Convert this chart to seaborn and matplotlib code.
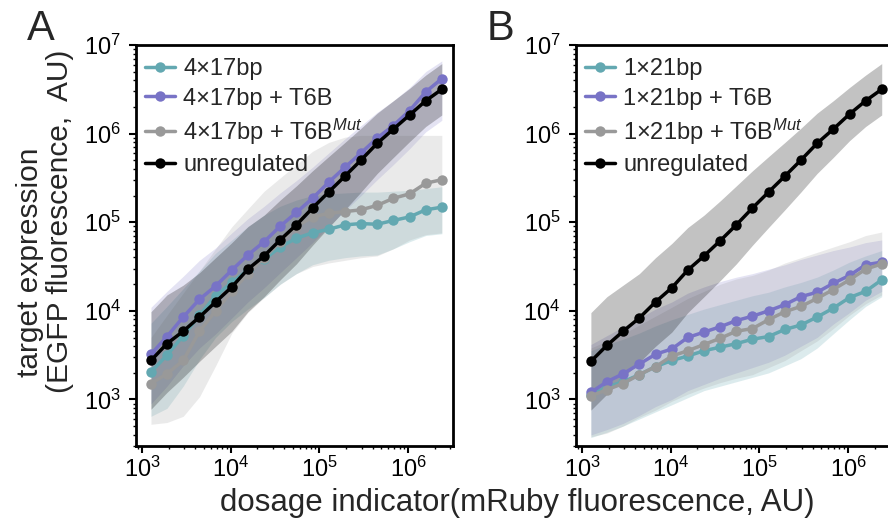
import numpy as np
import matplotlib
matplotlib.use("Agg")
import matplotlib.pyplot as plt
import seaborn as sns

# ---------------- data ----------------
dosage = [1260, 1910, 2910, 4440, 6750, 10300, 15600, 23800, 36100, 55000,
          83600, 127000, 194000, 294000, 448000, 681000, 1040000, 1580000, 2400000]

# Panel A: log10 of target expression (EGFP)
a_site = [3.31, 3.50, 3.72, 3.95, 4.17, 4.32, 4.46, 4.58, 4.72, 4.82,
          4.88, 4.92, 4.97, 4.985, 4.977, 5.02, 5.06, 5.14, 5.17]
a_site_lo = [2.81, 2.90, 3.15, 3.45, 3.70, 3.88, 4.02, 4.15, 4.30, 4.42,
             4.52, 4.57, 4.60, 4.62, 4.63, 4.70, 4.78, 4.85, 4.87]
a_site_hi = [3.86, 4.05, 4.25, 4.45, 4.65, 4.80, 4.95, 5.08, 5.18, 5.25,
             5.30, 5.32, 5.33, 5.34, 5.34, 5.35, 5.36, 5.38, 5.40]

a_t6b = [3.51, 3.71, 3.93, 4.13, 4.28, 4.46, 4.63, 4.78, 4.955, 5.11,
         5.27, 5.45, 5.62, 5.78, 5.95, 6.09, 6.26, 6.47, 6.62]
a_t6b_lo = [2.95, 3.15, 3.38, 3.58, 3.74, 3.92, 4.10, 4.26, 4.43, 4.60,
            4.77, 4.95, 5.13, 5.30, 5.48, 5.65, 5.83, 6.02, 6.15]
a_t6b_hi = [4.04, 4.22, 4.39, 4.57, 4.71, 4.88, 5.04, 5.18, 5.33, 5.47,
            5.62, 5.78, 5.94, 6.09, 6.24, 6.37, 6.52, 6.70, 6.82]

a_mut = [3.18, 3.29, 3.44, 3.77, 4.00, 4.22, 4.42, 4.60, 4.78, 4.95,
         5.06, 5.10, 5.12, 5.14, 5.19, 5.27, 5.32, 5.44, 5.48]
a_mut_lo = [2.72, 2.74, 2.81, 3.03, 3.38, 3.75, 3.98, 4.15, 4.30, 4.42,
            4.50, 4.54, 4.57, 4.60, 4.62, 4.70, 4.80, 4.86, 4.88]
a_mut_hi = [3.70, 3.95, 4.20, 4.45, 4.70, 4.95, 5.15, 5.35, 5.50, 5.65,
            5.80, 5.90, 5.96, 5.98, 5.98, 5.98, 5.98, 5.98, 5.98]

a_unreg = [3.44, 3.63, 3.77, 3.93, 4.10, 4.27, 4.47, 4.62, 4.80, 4.97,
           5.16, 5.34, 5.52, 5.70, 5.89, 6.05, 6.21, 6.37, 6.50]
a_unreg_lo = [2.89, 3.08, 3.25, 3.43, 3.60, 3.77, 3.99, 4.16, 4.35, 4.53,
              4.74, 4.94, 5.14, 5.34, 5.55, 5.73, 5.91, 6.08, 6.21]
a_unreg_hi = [3.99, 4.18, 4.29, 4.43, 4.60, 4.77, 4.95, 5.08, 5.25, 5.41,
              5.58, 5.74, 5.90, 6.06, 6.23, 6.37, 6.51, 6.66, 6.79]

# Panel B
b_site = [3.05, 3.14, 3.20, 3.28, 3.37, 3.44, 3.49, 3.55, 3.59, 3.63,
          3.68, 3.71, 3.79, 3.84, 3.93, 4.03, 4.15, 4.22, 4.35]
b_site_lo = [2.57, 2.63, 2.70, 2.78, 2.86, 2.94, 3.02, 3.10, 3.15, 3.20,
             3.25, 3.30, 3.38, 3.46, 3.58, 3.74, 3.90, 4.05, 4.16]
b_site_hi = [3.55, 3.62, 3.68, 3.75, 3.83, 3.90, 3.96, 4.02, 4.07, 4.12,
             4.17, 4.21, 4.27, 4.32, 4.38, 4.46, 4.55, 4.62, 4.68]

b_t6b = [3.08, 3.20, 3.29, 3.40, 3.51, 3.57, 3.70, 3.76, 3.82, 3.89,
         3.94, 4.00, 4.07, 4.16, 4.21, 4.31, 4.40, 4.52, 4.55]
b_t6b_lo = [2.60, 2.66, 2.73, 2.82, 2.92, 3.00, 3.10, 3.17, 3.24, 3.30,
            3.36, 3.42, 3.50, 3.60, 3.70, 3.85, 3.98, 4.12, 4.22]
b_t6b_hi = [3.62, 3.72, 3.82, 3.92, 4.02, 4.10, 4.20, 4.27, 4.33, 4.38,
            4.42, 4.47, 4.52, 4.58, 4.63, 4.68, 4.72, 4.77, 4.80]

b_mut = [3.04, 3.11, 3.18, 3.28, 3.37, 3.49, 3.55, 3.62, 3.69, 3.77,
         3.80, 3.90, 3.99, 4.05, 4.14, 4.24, 4.35, 4.47, 4.53]
b_mut_lo = [2.58, 2.62, 2.70, 2.80, 2.88, 2.98, 3.06, 3.13, 3.19, 3.24,
            3.28, 3.36, 3.44, 3.55, 3.66, 3.80, 3.95, 4.08, 4.18]
b_mut_hi = [3.58, 3.66, 3.74, 3.84, 3.94, 4.04, 4.14, 4.22, 4.30, 4.36,
            4.40, 4.46, 4.54, 4.60, 4.66, 4.72, 4.78, 4.85, 4.89]

b_unreg = [3.43, 3.61, 3.77, 3.92, 4.10, 4.26, 4.46, 4.62, 4.79, 4.97,
           5.16, 5.34, 5.52, 5.70, 5.89, 6.05, 6.22, 6.37, 6.50]
b_unreg_lo = [2.88, 3.06, 3.25, 3.42, 3.60, 3.76, 3.98, 4.16, 4.34, 4.53,
              4.74, 4.94, 5.14, 5.34, 5.55, 5.73, 5.92, 6.08, 6.21]
b_unreg_hi = [3.98, 4.16, 4.29, 4.42, 4.60, 4.76, 4.94, 5.08, 5.24, 5.41,
              5.58, 5.74, 5.90, 6.06, 6.23, 6.37, 6.52, 6.66, 6.79]

a_names = ["4×17bp", "4×17bp + T6B", r"4×17bp + T6B$^{\mathit{Mut}}$", "unregulated"]
b_names = ["1×21bp", "1×21bp + T6B", r"1×21bp + T6B$^{\mathit{Mut}}$", "unregulated"]
colors = ["#63a8b1", "#7873c6", "#999999", "#000000"]
band_alpha = [0.22, 0.2, 0.2, 0.24]

# ---------------- style ----------------
sns.set_theme(style="ticks")
plt.rcParams["font.family"] = ["Liberation Sans", "DejaVu Sans"]
plt.rcParams["mathtext.fontset"] = "custom"
plt.rcParams["mathtext.rm"] = "Liberation Sans"
plt.rcParams["mathtext.it"] = "Liberation Sans:italic"
plt.rcParams["mathtext.bf"] = "Liberation Sans:bold"
plt.rcParams["axes.spines.top"] = True
plt.rcParams["axes.spines.right"] = True

fig = plt.figure(figsize=(8.88, 5.2), dpi=100)
axA = fig.add_axes([0.1532, 0.1423, 0.357, 0.7712])
axB = fig.add_axes([0.6486, 0.1423, 0.357, 0.7712])

def draw(ax, names, mids, los, his):
    ax.set_xscale("log")
    ax.set_yscale("log")
    for lo, hi, c, a in zip(los, his, colors, band_alpha):
        ax.fill_between(dosage, np.power(10.0, lo), np.power(10.0, hi),
                        color=c, alpha=a, lw=0, zorder=1)
    order = [0, 2, 1, 3]
    for k in order:
        sns.lineplot(x=dosage, y=np.power(10.0, mids[k]), ax=ax, color=colors[k],
                     marker="o", markersize=7.5, markeredgewidth=0, lw=2.5,
                     label=names[k], estimator=None, sort=False, zorder=3 + k)
    ax.set_xlim(10 ** 2.932, 10 ** 6.507)
    ax.set_ylim(10 ** 2.475, 1e7)
    for s in ax.spines.values():
        s.set_visible(True)
        s.set_linewidth(2.0)
        s.set_color("black")
        s.set_zorder(10)
    ax.tick_params(axis="both", which="major", direction="out", length=5,
                   width=1.5, labelsize=17, color="black", labelcolor="black")
    ax.tick_params(axis="both", which="minor", direction="out", length=2.5,
                   width=1.0, color="black")
    ax.tick_params(axis="y", which="major", pad=6)
    ax.tick_params(axis="x", which="major", pad=3)
    ax.set_xticks([1e3, 1e4, 1e5, 1e6])
    ax.set_yticks([1e3, 1e4, 1e5, 1e6, 1e7])
    ax.set_xlabel("")
    ax.set_ylabel("")
    h, l = ax.get_legend_handles_labels()
    idx = [l.index(n) for n in names]
    ax.legend([h[i] for i in idx], [l[i] for i in idx], loc="upper left",
              bbox_to_anchor=(0.0, 0.99), frameon=False, fontsize=17,
              handlelength=1.25, handletextpad=0.35, labelspacing=0.3,
              borderaxespad=0.2, borderpad=0.2)

draw(axA, a_names, [a_site, a_t6b, a_mut, a_unreg],
     [a_site_lo, a_t6b_lo, a_mut_lo, a_unreg_lo],
     [a_site_hi, a_t6b_hi, a_mut_hi, a_unreg_hi])
draw(axB, b_names, [b_site, b_t6b, b_mut, b_unreg],
     [b_site_lo, b_t6b_lo, b_mut_lo, b_unreg_lo],
     [b_site_hi, b_t6b_hi, b_mut_hi, b_unreg_hi])

fig.text(0.0338, 0.496, "target expression", rotation=90, ha="center",
         va="center", fontsize=21.5)
fig.text(0.0676, 0.575, "(EGFP fluorescence,  AU)", rotation=90, ha="center",
         va="center", fontsize=21.5)
fig.text(0.582, 0.0173, "dosage indicator(mRuby fluorescence, AU)", ha="center",
         va="baseline", fontsize=22.5)
fig.text(0.030, 0.923, "A", fontsize=30, va="baseline", ha="left")
fig.text(0.548, 0.923, "B", fontsize=30, va="baseline", ha="left")

fig.savefig("out.png", dpi=100)
